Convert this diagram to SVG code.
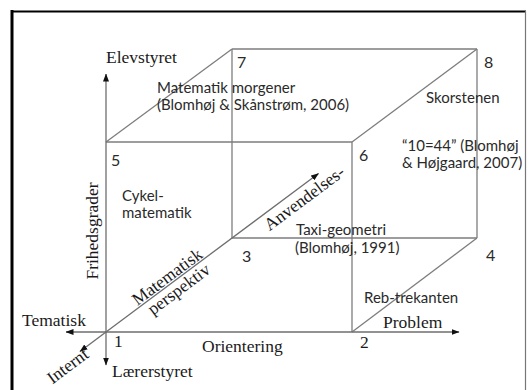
<svg xmlns="http://www.w3.org/2000/svg" width="528" height="390" viewBox="0 0 528 390">
  <defs>
    <marker id="arrow" viewBox="0 0 8 6" refX="7.5" refY="3" markerWidth="8" markerHeight="6" markerUnits="userSpaceOnUse" orient="auto">
      <path d="M0,0 L8,3 L0,6 z" fill="#111"/>
    </marker>
    <style>
      .edge { stroke: #7d7d7d; stroke-width: 1.3; fill: none; }
      .axis { stroke: #6e6e6e; stroke-width: 1.3; fill: none; marker-end: url(#arrow); }
      .serif { font-family: "Liberation Serif", "Times New Roman", serif; font-size: 17.5px; fill: #1a1a1a; }
      .sans { font-family: Lato, "Liberation Sans", sans-serif; font-size: 15px; fill: #2a2a2a; }
      .num { font-family: Lato, "Liberation Sans", sans-serif; font-size: 16px; fill: #2a2a2a; }
    </style>
  </defs>

  <rect width="528" height="390" fill="#fff"/>

  <!-- frame -->
  <g id="frame">
    <line x1="12" y1="10" x2="12" y2="390" stroke="#000" stroke-width="3"/>
    <line x1="11" y1="11.5" x2="526" y2="11.5" stroke="#000" stroke-width="2"/>
    <line x1="525.5" y1="11" x2="525.5" y2="390" stroke="#777" stroke-width="1.2"/>
  </g>

  <!-- cube edges and axes -->
  <g id="connectors">
    <!-- front face -->
    <line class="edge" x1="106" y1="142" x2="352" y2="142"/>
    <line class="edge" x1="352" y1="142" x2="352" y2="332"/>
    <!-- back face -->
    <line class="edge" x1="232" y1="49" x2="477" y2="49"/>
    <line class="edge" x1="232" y1="49" x2="232" y2="238"/>
    <line class="edge" x1="232" y1="238" x2="477" y2="238"/>
    <line class="edge" x1="477" y1="49" x2="477" y2="238"/>
    <!-- receding edges -->
    <line class="edge" x1="106" y1="142" x2="232" y2="49"/>
    <line class="edge" x1="352" y1="142" x2="477" y2="49"/>
    <line class="edge" x1="352" y1="332" x2="477" y2="238"/>
    <!-- axes from corner 1 -->
    <line class="axis" x1="106" y1="332" x2="106" y2="74"/>
    <line class="axis" x1="106" y1="332" x2="106" y2="365"/>
    <line class="axis" x1="106" y1="332" x2="459" y2="332"/>
    <line class="axis" x1="106" y1="332" x2="66" y2="332"/>
    <line class="axis" x1="106" y1="332" x2="318.5" y2="173.5"/>
    <line class="axis" x1="106" y1="332" x2="80" y2="351.4"/>
  </g>

  <!-- axis labels -->
  <g id="axis-labels">
    <text class="serif" x="106" y="63">Elevstyret</text>
    <text class="serif" x="112" y="377">Lærerstyret</text>
    <text class="serif" x="22" y="326">Tematisk</text>
    <text class="serif" x="383" y="328">Problem</text>
    <text class="serif" x="202" y="352">Orientering</text>
    <text class="serif" transform="translate(98 231) rotate(-90)" text-anchor="middle">Frihedsgrader</text>
    <g transform="translate(106 332) rotate(-36.7)">
      <text class="serif" x="82" y="-2" text-anchor="middle">Matematisk</text>
      <text class="serif" x="84" y="15" text-anchor="middle">perspektiv</text>
      <text class="serif" x="239" y="17" text-anchor="middle">Anvendelses-</text>
      <text class="serif" x="-51" y="10" text-anchor="middle">Internt</text>
    </g>
  </g>

  <!-- corner numbers -->
  <g id="corners">
    <text class="serif" x="114" y="347">1</text>
    <text class="serif" x="360" y="348">2</text>
    <text class="num" x="242" y="262">3</text>
    <text class="num" x="486" y="261">4</text>
    <text class="num" x="111" y="166">5</text>
    <text class="num" x="359" y="161">6</text>
    <text class="num" x="237" y="68">7</text>
    <text class="num" x="484" y="68">8</text>
  </g>

  <!-- examples placed in the cube -->
  <g id="node-morgener">
    <text class="sans" x="157" y="93">Matematik morgener</text>
    <text class="sans" x="157" y="110">(Blomhøj &amp; Skånstrøm, 2006)</text>
  </g>
  <g id="node-skorstenen">
    <text class="sans" x="426" y="103">Skorstenen</text>
  </g>
  <g id="node-10-44">
    <text class="sans" x="402" y="151">“10=44” (Blomhøj</text>
    <text class="sans" x="402" y="168">&amp; Højgaard, 2007)</text>
  </g>
  <g id="node-cykel">
    <text class="sans" x="122" y="201">Cykel-</text>
    <text class="sans" x="122" y="218">matematik</text>
  </g>
  <g id="node-taxi">
    <text class="sans" x="296" y="235">Taxi-geometri</text>
    <text class="sans" x="295" y="253">(Blomhøj, 1991)</text>
  </g>
  <g id="node-reb">
    <text class="sans" x="364" y="303">Reb-trekanten</text>
  </g>
</svg>
